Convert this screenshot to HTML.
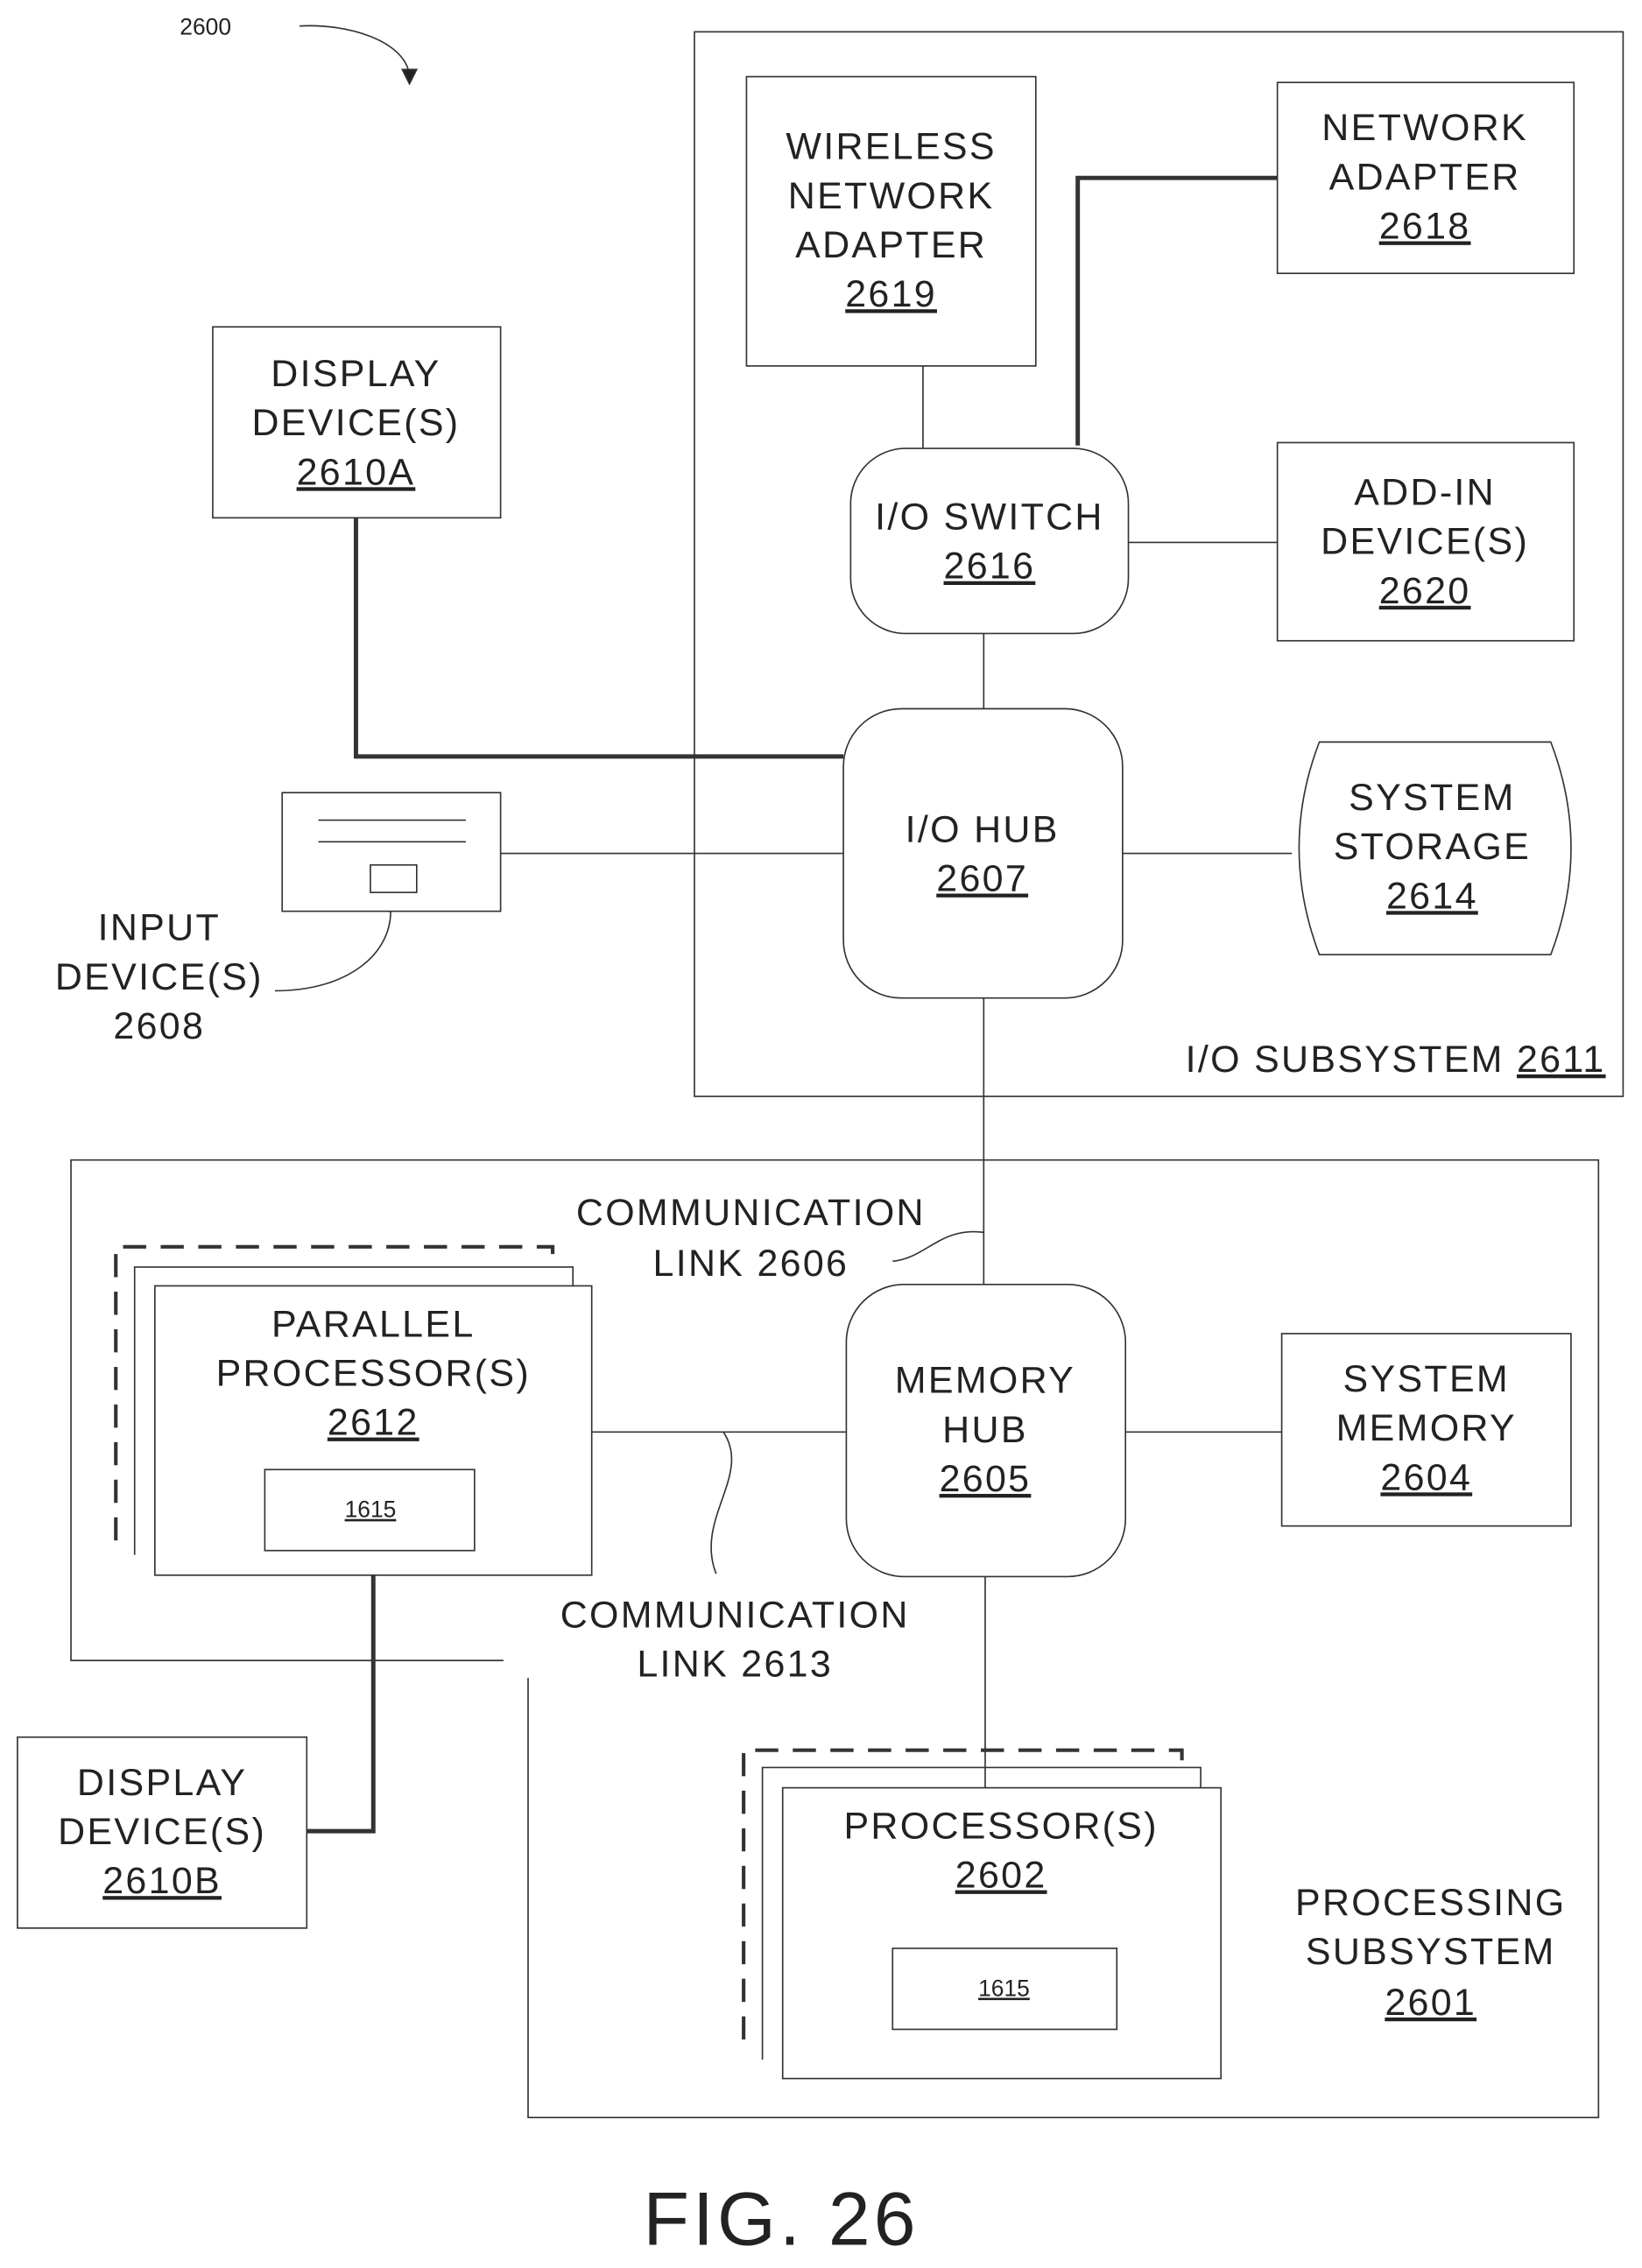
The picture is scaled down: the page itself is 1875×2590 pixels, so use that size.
<!DOCTYPE html>
<html><head><meta charset="utf-8"><style>html,body{margin:0;padding:0;background:#fff}svg{display:block}text{font-family:"Liberation Sans",sans-serif;fill:#222}</style></head>
<body>
<svg width="1875" height="2590" viewBox="0 0 1135 1568" xmlns="http://www.w3.org/2000/svg">
<g fill="none" stroke="#333" stroke-width="1">
<path d="M207 18 C240 16 280 28 283 52"/>
<path d="M278 48 L288 48 L283 58 Z" fill="#222"/>
<rect x="480" y="22" width="642" height="736"/>
<rect x="516" y="53" width="200" height="200"/>
<rect x="883" y="57" width="205" height="132"/>
<rect x="588" y="310" width="192" height="128" rx="38"/>
<rect x="883" y="306" width="205" height="137"/>
<rect x="583" y="490" width="193" height="200" rx="40"/>
<path d="M912 513 L1072 513 Q1100 586 1072 660 L912 660 Q884 586 912 513 Z"/>
<rect x="147" y="226" width="199" height="132"/>
<rect x="195" y="548" width="151" height="82"/>
<line x1="220" y1="567" x2="322" y2="567"/>
<line x1="220" y1="582" x2="322" y2="582"/>
<rect x="256" y="598" width="32" height="19"/>
<path d="M270 630 C270 660 240 685 190 685"/>
<line x1="638" y1="253" x2="638" y2="310"/>
<path d="M745 308 L745 123 L883 123" stroke-width="3"/>
<line x1="780" y1="375" x2="883" y2="375"/>
<line x1="680" y1="438" x2="680" y2="490"/>
<path d="M246 358 L246 523 L583 523" stroke-width="3"/>
<line x1="346" y1="590" x2="583" y2="590"/>
<line x1="776" y1="590" x2="893" y2="590"/>
<line x1="680" y1="690" x2="680" y2="888"/>
<path d="M348 1148 L49 1148 L49 802 L1105 802 L1105 1464 L365 1464 L365 1160"/>
<path d="M617 872 C640 870 650 848 680 852"/>
<path d="M80 1065 L80 862 L382 862 L382 876" stroke-width="2.5" stroke-dasharray="16 10"/>
<path d="M93 1075 L93 876 L396 876 L396 889"/>
<rect x="107" y="889" width="302" height="200" fill="#fff"/>
<rect x="183" y="1016" width="145" height="56"/>
<line x1="409" y1="990" x2="585" y2="990"/>
<path d="M500 990 C520 1020 480 1050 495 1088"/>
<rect x="585" y="888" width="193" height="202" rx="40"/>
<rect x="886" y="922" width="200" height="133"/>
<line x1="778" y1="990" x2="886" y2="990"/>
<line x1="681" y1="1090" x2="681" y2="1236"/>
<path d="M258 1089 L258 1266 L212 1266" stroke-width="3"/>
<rect x="12" y="1201" width="200" height="132"/>
<path d="M514 1410 L514 1210 L817 1210 L817 1222" stroke-width="2.5" stroke-dasharray="16 10"/>
<path d="M527 1424 L527 1222 L830 1222 L830 1236"/>
<rect x="541" y="1236" width="303" height="201" fill="#fff"/>
<rect x="617" y="1347" width="155" height="56"/>
</g>
<g font-size="26" text-anchor="middle" letter-spacing="1.4">
<text x="142" y="24" font-size="16" letter-spacing="0">2600</text>
<text x="616" y="110">WIRELESS</text><text x="616" y="144">NETWORK</text><text x="616" y="178">ADAPTER</text><text x="616" y="212" text-decoration="underline">2619</text>
<text x="985" y="97">NETWORK</text><text x="985" y="131">ADAPTER</text><text x="985" y="165" text-decoration="underline">2618</text>
<text x="684" y="366">I/O SWITCH</text><text x="684" y="400" text-decoration="underline">2616</text>
<text x="985" y="349">ADD-IN</text><text x="985" y="383">DEVICE(S)</text><text x="985" y="417" text-decoration="underline">2620</text>
<text x="679" y="582">I/O HUB</text><text x="679" y="616" text-decoration="underline">2607</text>
<text x="990" y="560">SYSTEM</text><text x="990" y="594">STORAGE</text><text x="990" y="628" text-decoration="underline">2614</text>
<text x="246" y="267">DISPLAY</text><text x="246" y="301">DEVICE(S)</text><text x="246" y="335" text-decoration="underline">2610A</text>
<text x="110" y="650">INPUT</text><text x="110" y="684">DEVICE(S)</text><text x="110" y="718">2608</text>
<text x="1110" y="741" text-anchor="end">I/O SUBSYSTEM <tspan text-decoration="underline">2611</tspan></text>
<text x="519" y="847">COMMUNICATION</text><text x="519" y="882">LINK 2606</text>
<text x="258" y="924">PARALLEL</text><text x="258" y="958">PROCESSOR(S)</text><text x="258" y="992" text-decoration="underline">2612</text>
<text x="256" y="1049" font-size="16" letter-spacing="0" text-decoration="underline">1615</text>
<text x="681" y="963">MEMORY</text><text x="681" y="997">HUB</text><text x="681" y="1031" text-decoration="underline">2605</text>
<text x="986" y="962">SYSTEM</text><text x="986" y="996">MEMORY</text><text x="986" y="1030" text-decoration="underline">2604</text>
<text x="508" y="1125">COMMUNICATION</text><text x="508" y="1159">LINK 2613</text>
<text x="112" y="1241">DISPLAY</text><text x="112" y="1275">DEVICE(S)</text><text x="112" y="1309" text-decoration="underline">2610B</text>
<text x="692" y="1271">PROCESSOR(S)</text><text x="692" y="1305" text-decoration="underline">2602</text>
<text x="694" y="1380" font-size="16" letter-spacing="0" text-decoration="underline">1615</text>
<text x="989" y="1324">PROCESSING</text><text x="989" y="1358">SUBSYSTEM</text><text x="989" y="1393" text-decoration="underline">2601</text>
<text x="540" y="1552" font-size="52" letter-spacing="2.5">FIG. 26</text>
</g>
</svg>
</body></html>
